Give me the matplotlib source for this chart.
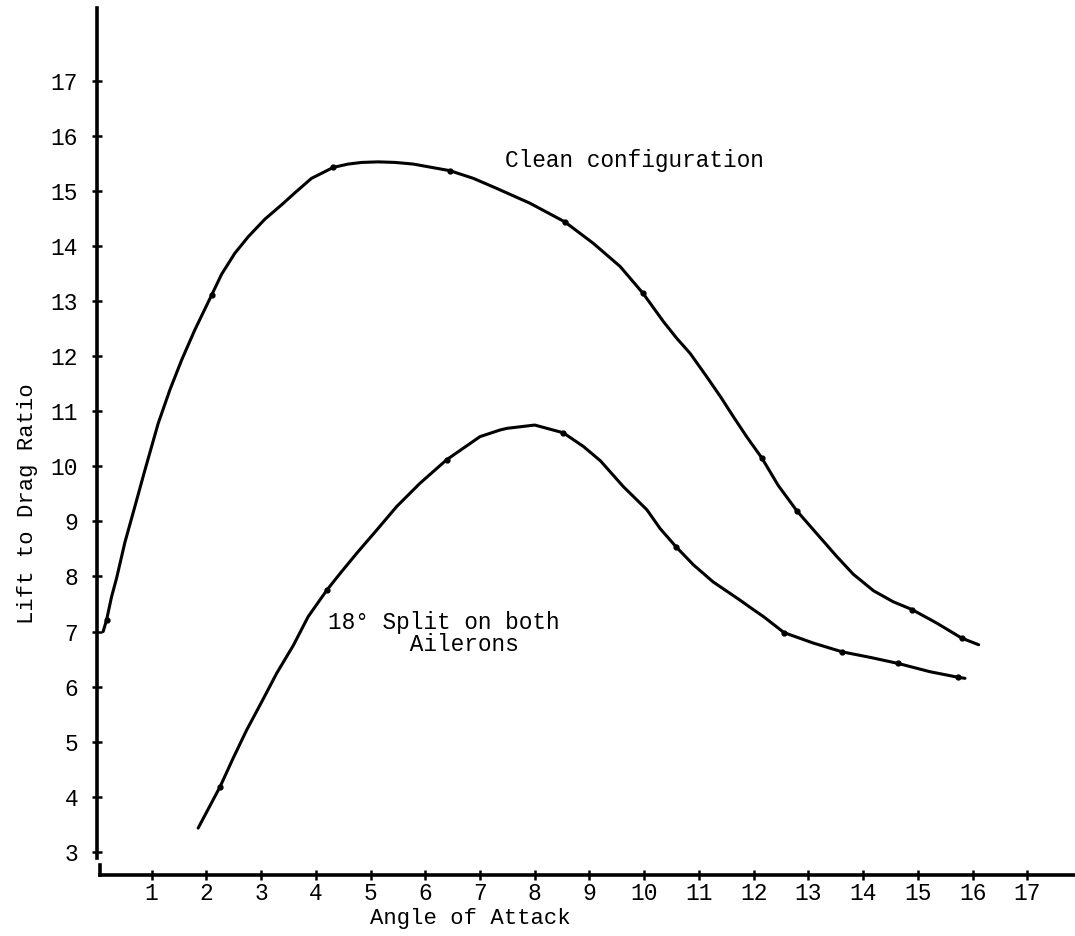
import matplotlib
matplotlib.use("Agg")
import matplotlib.pyplot as plt

plt.rcParams['font.family'] = ['Liberation Mono', 'DejaVu Sans Mono']

# ---- data ----
clean_x = [0.115, 0.177, 0.268, 0.36, 0.512, 0.694, 0.877, 1.12, 1.334, 1.548, 1.79,
           2.096, 2.279, 2.52, 2.765, 3.07, 3.375, 3.62, 3.92, 4.32, 4.59, 4.84, 5.14,
           5.45, 5.78, 6.45, 6.88, 7.30, 7.91, 8.55, 9.07, 9.56, 9.98, 10.35, 10.59,
           10.84, 11.14, 11.39, 11.63, 11.87, 12.15, 12.45, 12.79, 13.15, 13.52, 13.82,
           14.19, 14.55, 14.89, 15.35, 15.80, 16.11]
clean_y = [7.00, 7.21, 7.63, 7.97, 8.62, 9.27, 9.93, 10.78, 11.39, 11.93, 12.48,
           13.11, 13.49, 13.87, 14.17, 14.49, 14.75, 14.97, 15.23, 15.43, 15.49, 15.52, 15.53,
           15.52, 15.49, 15.37, 15.23, 15.05, 14.78, 14.44, 14.05, 13.63, 13.14, 12.63, 12.33,
           12.05, 11.63, 11.27, 10.90, 10.54, 10.15, 9.65, 9.19, 8.78, 8.36, 8.04,
           7.74, 7.54, 7.40, 7.15, 6.88, 6.76]
clean_mx = [0.177, 2.096, 4.32, 6.45, 8.55, 9.98, 12.15, 12.79, 14.89, 15.80]
clean_my = [7.21, 13.11, 15.43, 15.37, 14.44, 13.14, 10.15, 9.19, 7.40, 6.88]

split_x = [1.85, 2.25, 2.49, 2.736, 3.01, 3.284, 3.59, 3.86, 4.20, 4.44, 4.746, 5.11,
           5.477, 5.90, 6.39, 7.0, 7.365, 7.49, 8.0, 8.52, 8.89, 9.2, 9.62, 10.05,
           10.29, 10.58, 10.90, 11.26, 11.75, 11.99, 12.18, 12.555, 13.09, 13.62,
           14.13, 14.64, 15.22, 15.73, 15.86]
split_y = [3.43, 4.18, 4.70, 5.21, 5.72, 6.24, 6.75, 7.27, 7.75, 8.05, 8.42, 8.84,
           9.27, 9.69, 10.12, 10.54, 10.66, 10.69, 10.75, 10.61, 10.36, 10.1, 9.63, 9.21,
           8.87, 8.54, 8.21, 7.90, 7.57, 7.40, 7.27, 6.98, 6.79, 6.63,
           6.53, 6.42, 6.27, 6.17, 6.15]
split_mx = [2.25, 4.20, 6.39, 8.52, 10.58, 12.555, 13.62, 14.64, 15.73]
split_my = [4.18, 7.75, 10.12, 10.61, 8.54, 6.98, 6.63, 6.42, 6.17]

x_ticks = list(range(1, 18))
y_ticks = list(range(3, 18))

label_clean = "Clean configuration"
label_split = "18° Split on both\n      Ailerons"
x_label = "Angle of Attack"
y_label = "Lift to Drag Ratio"

# ---- figure ----
fig = plt.figure(figsize=(10.75, 9.36), dpi=100)
ax = fig.add_axes([0, 0, 1, 1])
ax.set_xlim(-1.77, 17.87)
ax.set_ylim(1.47, 18.47)

ax.plot(clean_x, clean_y, color='black', lw=2.2, solid_capstyle='round',
        solid_joinstyle='round')
ax.plot(clean_mx, clean_my, 'o', color='black', ms=3.5)
ax.plot(split_x, split_y, color='black', lw=2.2, solid_capstyle='round',
        solid_joinstyle='round')
ax.plot(split_mx, split_my, 'o', color='black', ms=3.5)

for s in ['top', 'right']:
    ax.spines[s].set_visible(False)
ax.spines['left'].set_position(('data', 0))
ax.spines['bottom'].set_position(('data', 2.57))
ax.spines['left'].set_bounds(2.88, 18.33)
ax.spines['bottom'].set_bounds(0.05, 17.87)
ax.spines['left'].set_linewidth(2.6)
ax.spines['bottom'].set_linewidth(2.6)
# small hook at the corner
ax.plot([0.05, 0.05], [2.57, 2.76], color='black', lw=2.6)

ax.set_xticks(x_ticks)
ax.set_xticklabels([str(v) for v in x_ticks])
ax.set_yticks(y_ticks)
ax.set_yticklabels([str(v) for v in y_ticks])
ax.tick_params(axis='both', direction='inout', length=7, width=1.8, labelsize=16.5)
ax.tick_params(axis='x', pad=1)
ax.tick_params(axis='y', pad=10)

ax.set_xlabel(x_label, fontsize=16)
ax.xaxis.set_label_coords(470 / 1075, 1 - 908 / 936)
ax.set_ylabel(y_label, fontsize=16)
ax.yaxis.set_label_coords(38 / 1075, 1 - 504 / 936)

ax.text(7.46, 15.56, label_clean, fontsize=16.4, ha='left', va='center')
ax.text(4.22, 7.38, label_split, fontsize=16.4, ha='left', va='top', linespacing=0.95)

fig.savefig("out.png", dpi=100, facecolor='white')
